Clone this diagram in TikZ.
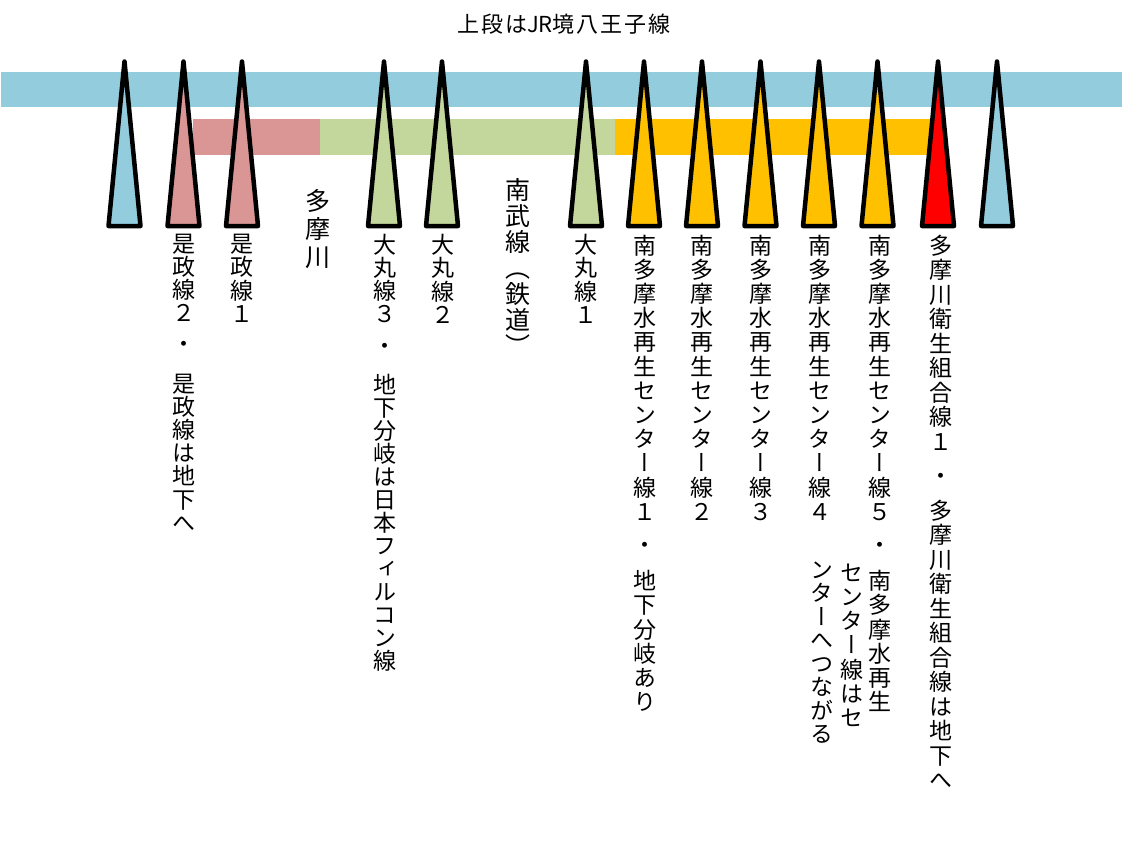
\documentclass[tikz,border=0pt]{standalone}
\usepackage{fontspec}
\newfontfamily\jp{Noto Sans CJK JP}
\newfontfamily\jpt[LetterSpace=9]{Noto Sans CJK JP}
\newfontfamily\jpv[RawFeature=+vert]{Noto Sans CJK JP}
\definecolor{jrblue}{RGB}{147,205,221}
\definecolor{korepink}{RGB}{217,150,148}
\definecolor{marugreen}{RGB}{195,214,155}
\definecolor{nanorange}{RGB}{255,192,0}
\definecolor{tamared}{RGB}{255,0,0}
\tikzset{
  spike/.style={draw=black, line width=4.5pt, line join=round},
  vlab/.style={anchor=north, inner sep=0pt, align=center,
    font=\jpv\fontsize{23}{#1}\selectfont,
    execute at begin node={\rule{0pt}{0.88em}}},
  vlab/.default=24,
  vbig/.style={anchor=north, inner sep=0pt, align=center,
    font=\jpv\fontsize{25}{#1}\selectfont,
    execute at begin node={\rule{0pt}{0.88em}}},
  vbig/.default=26,
  titlefont/.style={inner sep=0pt, font=\jpt\fontsize{22}{26}\selectfont}
}
\begin{document}
\begin{tikzpicture}[x=1pt,y=-1pt]
\useasboundingbox (0,0) rectangle (1124,841);
\fill[white] (0,0) rectangle (1124,841);
% bands
\fill[jrblue] (0.5,72) rectangle (1122,107);
\fill[korepink] (193,119) rectangle (320,155);
\fill[marugreen] (320,119) rectangle (615,155);
\fill[nanorange] (615,119) rectangle (935,155);
% spikes
\foreach \x/\c in {124.5/jrblue, 183.5/korepink, 242/korepink, 384/marugreen, 442/marugreen,
  586/marugreen, 644/nanorange, 702/nanorange, 760.5/nanorange, 819/nanorange, 877.5/nanorange,
  938/tamared, 997/jrblue}
  \draw[spike, fill=\c] (\x-16,226) -- (\x,61.5) -- (\x+16,226) -- cycle;
% title
\node[titlefont] (title) at (564,24) {上段は{\jp JR}境八王子線};
% labels
\node[vlab=23.2] (l1) at (183.5,233.5) {是\\政\\線\\２\\[8pt]・\\[16pt]是\\政\\線\\は\\地\\下\\へ};
\node[vlab=23.5] (l2) at (242,233.5) {是\\政\\線\\１};
\node[vbig=28] (tama) at (318,189.5) {多\\摩\\川};
\node[vlab=23] (l3) at (385,233.5) {大\\丸\\線\\３\\[9pt]・\\[16pt]地\\下\\分\\岐\\は\\日\\本\\フ\\ィ\\ル\\コ\\ン\\線};
\node[vlab=23.5] (l4) at (443,233.5) {大\\丸\\線\\２};
\node[vbig=26] (nambu) at (518,178.5) {南\\武\\線\\（\\鉄\\道\\）};
\node[vlab=23.5] (l5) at (586,233.5) {大\\丸\\線\\１};
\node[vlab=24.2] (l6) at (645,234.5) {南\\多\\摩\\水\\再\\生\\セ\\ン\\タ\\ー\\線\\１\\[9pt]・\\[12pt]地\\下\\分\\岐\\あ\\り};
\node[vlab=24.2] (l7) at (702,234.5) {南\\多\\摩\\水\\再\\生\\セ\\ン\\タ\\ー\\線\\２};
\node[vlab=24.2] (l8) at (760.5,234.5) {南\\多\\摩\\水\\再\\生\\セ\\ン\\タ\\ー\\線\\３};
\node[vlab=24.2] (l9) at (820,234.5) {南\\多\\摩\\水\\再\\生\\セ\\ン\\タ\\ー\\線\\４};
\node[vlab=24.2] (l10) at (880,234.5) {南\\多\\摩\\水\\再\\生\\セ\\ン\\タ\\ー\\線\\５\\[9pt]・\\[12pt]南\\多\\摩\\水\\再\\生};
\node[vlab=24.2] (l11) at (852,563.5) {セ\\ン\\タ\\ー\\線\\は\\セ};
\node[vlab=23.5] (l12) at (822,561.5) {ン\\タ\\ー\\へ\\つ\\な\\が\\る};
\node[vlab=24.5] (l13) at (941,234.5) {多\\摩\\川\\衛\\生\\組\\合\\線\\１\\[9.5pt]・\\[10.5pt]多\\摩\\川\\衛\\生\\組\\合\\線\\は\\地\\下\\へ};
\end{tikzpicture}
\end{document}
